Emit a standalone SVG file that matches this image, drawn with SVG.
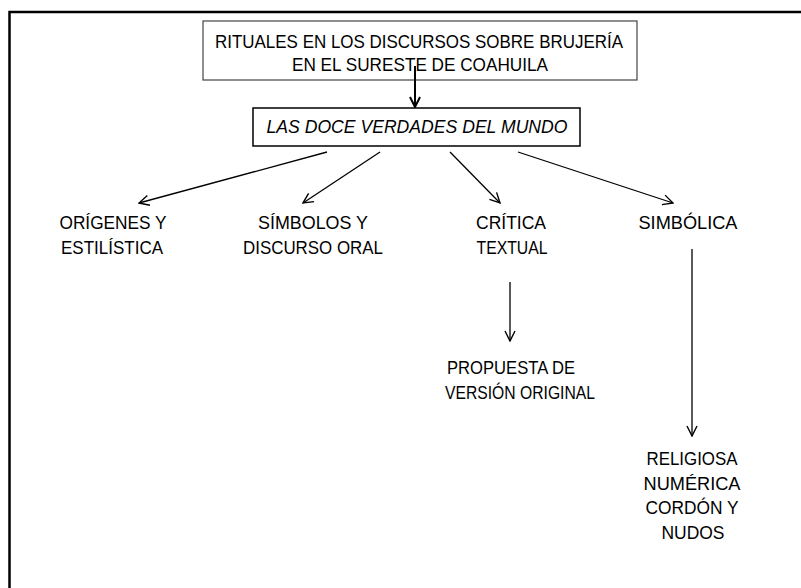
<svg xmlns="http://www.w3.org/2000/svg" width="801" height="588" viewBox="0 0 801 588">
<defs>
<marker id="arr" viewBox="0 0 12 12" refX="11" refY="6" markerWidth="12" markerHeight="12" markerUnits="userSpaceOnUse" orient="auto">
<path d="M1,1 L11,6 L1,11" fill="none" stroke="#000" stroke-width="1.4"/>
</marker>
<marker id="arr2" viewBox="0 0 12 12" refX="11" refY="6" markerWidth="12" markerHeight="12" markerUnits="userSpaceOnUse" orient="auto">
<path d="M1,1 L11,6 L1,11" fill="none" stroke="#000" stroke-width="2"/>
</marker>
</defs>
<style>
text{font-family:"Liberation Sans",Arial,sans-serif;font-size:17.5px;fill:#000;text-anchor:middle}
.it{font-style:italic}
.c{stroke:#000;stroke-width:1.3;fill:none;marker-end:url(#arr)}
</style>
<rect width="801" height="588" fill="#fff"/>
<path d="M9.5,588 L9.5,12 L801,12" fill="none" stroke="#000" stroke-width="2.5"/>
<g id="title">
<rect x="203" y="21" width="434" height="59" fill="#fff" stroke="#444" stroke-width="1.2"/>
<text x="419" y="48" textLength="408" lengthAdjust="spacingAndGlyphs">RITUALES EN LOS DISCURSOS SOBRE BRUJERÍA</text>
<text x="420" y="71" textLength="256" lengthAdjust="spacingAndGlyphs">EN EL SURESTE DE COAHUILA</text>
</g>
<g id="doce">
<rect x="253" y="108" width="327" height="38" fill="#fff" stroke="#000" stroke-width="1.5"/>
<text class="it" x="417" y="133" textLength="301" lengthAdjust="spacingAndGlyphs">LAS DOCE VERDADES DEL MUNDO</text>
</g>
<g id="origenes">
<text x="113" y="229" textLength="107" lengthAdjust="spacingAndGlyphs">ORÍGENES Y</text>
<text x="112" y="254" textLength="102" lengthAdjust="spacingAndGlyphs">ESTILÍSTICA</text>
</g>
<g id="simbolos">
<text x="313" y="229" textLength="110" lengthAdjust="spacingAndGlyphs">SÍMBOLOS Y</text>
<text x="313" y="254" textLength="140" lengthAdjust="spacingAndGlyphs">DISCURSO ORAL</text>
</g>
<g id="critica">
<text x="511" y="229" textLength="70" lengthAdjust="spacingAndGlyphs">CRÍTICA</text>
<text x="512" y="254" textLength="71" lengthAdjust="spacingAndGlyphs">TEXTUAL</text>
</g>
<g id="simbolica">
<text x="688" y="229" textLength="99" lengthAdjust="spacingAndGlyphs">SIMBÓLICA</text>
</g>
<g id="propuesta">
<text x="511" y="374" textLength="128" lengthAdjust="spacingAndGlyphs">PROPUESTA DE</text>
<text x="520" y="399" textLength="150" lengthAdjust="spacingAndGlyphs">VERSIÓN ORIGINAL</text>
</g>
<g id="religiosa">
<text x="692" y="465" textLength="91" lengthAdjust="spacingAndGlyphs">RELIGIOSA</text>
<text x="692" y="489.5" textLength="97" lengthAdjust="spacingAndGlyphs">NUMÉRICA</text>
<text x="692" y="514" textLength="93" lengthAdjust="spacingAndGlyphs">CORDÓN Y</text>
<text x="693" y="538.5" textLength="63" lengthAdjust="spacingAndGlyphs">NUDOS</text>
</g>
<g id="connectors">
<line x1="415" y1="66" x2="415" y2="107" stroke="#000" stroke-width="2" marker-end="url(#arr2)"/>
<line class="c" x1="327" y1="152" x2="139" y2="203"/>
<line class="c" x1="380" y1="152" x2="303" y2="203"/>
<line class="c" x1="450" y1="152" x2="500" y2="203"/>
<line class="c" x1="518" y1="152" x2="673" y2="203"/>
<line class="c" x1="510" y1="282" x2="510" y2="341"/>
<line class="c" x1="692" y1="249" x2="692" y2="436"/>
</g>
</svg>
